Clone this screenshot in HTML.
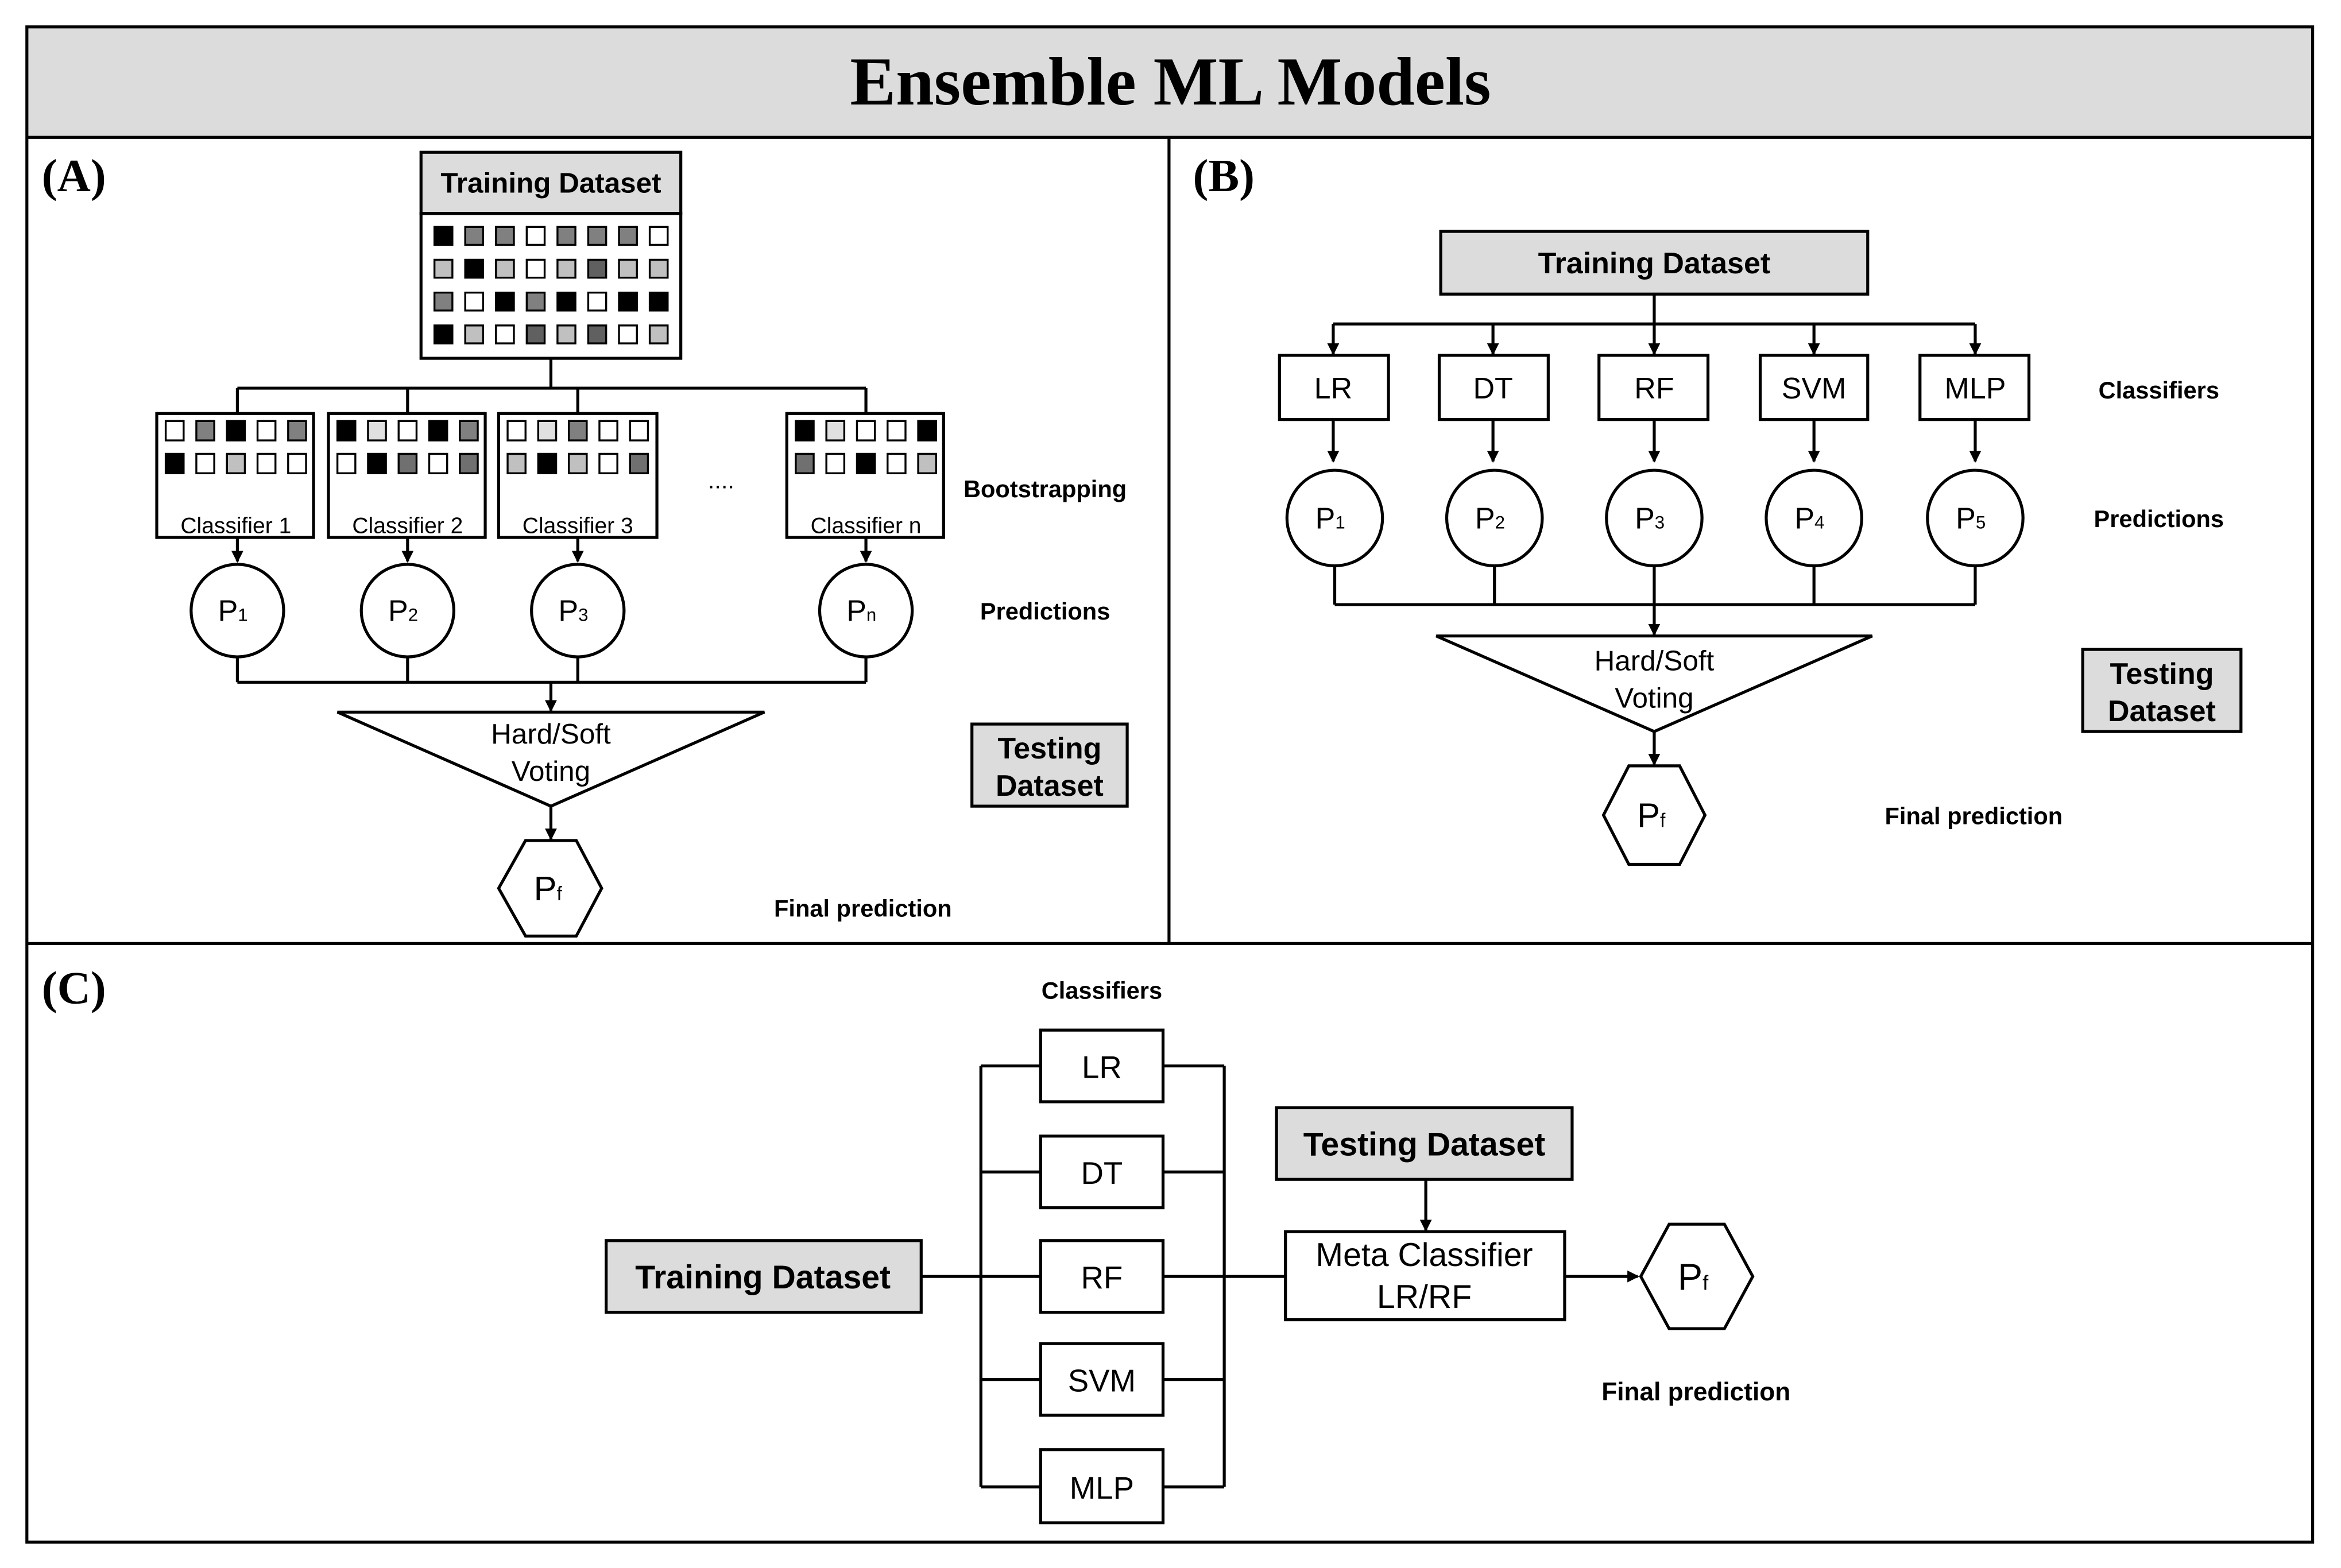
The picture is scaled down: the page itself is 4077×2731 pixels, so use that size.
<!DOCTYPE html>
<html><head><meta charset="utf-8"><style>html,body{margin:0;padding:0;background:#fff}svg{display:block}</style></head>
<body>
<svg width="4077" height="2731" viewBox="0 0 1568 1050.3" preserveAspectRatio="none" xmlns="http://www.w3.org/2000/svg" font-family="Liberation Sans, Arial, sans-serif">
<defs><marker id="ar" markerWidth="8" markerHeight="8" refX="7" refY="4" orient="auto" markerUnits="userSpaceOnUse"><path d="M0,0 L8,4 L0,8 z" fill="#000"/></marker></defs>
<rect x="0" y="0" width="1568" height="1051" fill="#fff"/>
<rect x="18" y="18" width="1531" height="74" fill="#dcdcdc"/>
<rect x="18" y="18" width="1531" height="1015" fill="none" stroke="#000" stroke-width="2"/>
<line x1="18" y1="92" x2="1549" y2="92" stroke="#000" stroke-width="2"/>
<line x1="18" y1="632" x2="1549" y2="632" stroke="#000" stroke-width="2"/>
<line x1="783" y1="92" x2="783" y2="632" stroke="#000" stroke-width="2"/>
<text x="784" y="70" text-anchor="middle" font-family="Liberation Serif, serif" font-weight="bold" font-size="46">Ensemble ML Models</text>
<g font-family="Liberation Serif, serif" font-weight="bold" font-size="31"><text x="28" y="128">(A)</text><text x="799" y="128">(B)</text><text x="28" y="672">(C)</text></g>

<g stroke="#000" stroke-width="2" fill="none">
<rect x="282" y="102" width="174" height="41" fill="#dcdcdc"/>
<rect x="282" y="143" width="174" height="97" fill="#fff"/>
<path d="M369 240V260M159 260H580M159 260V277M273 260V277M387 260V277M580 260V277"/>
<rect x="105" y="277" width="105" height="83"/>
<rect x="220" y="277" width="105" height="83"/>
<rect x="334" y="277" width="106" height="83"/>
<rect x="527" y="277" width="105" height="83"/>
<path d="M159 360V376" marker-end="url(#ar)"/><path d="M273 360V376" marker-end="url(#ar)"/><path d="M387 360V376" marker-end="url(#ar)"/><path d="M580 360V376" marker-end="url(#ar)"/>
<circle cx="159" cy="409" r="31"/><circle cx="273" cy="409" r="31"/><circle cx="387" cy="409" r="31"/><circle cx="580" cy="409" r="31"/>
<path d="M159 440V457M273 440V457M387 440V457M580 440V457M159 457H580"/>
<path d="M369 457V476" marker-end="url(#ar)"/>
<path d="M226 477H512L369 540Z"/>
<path d="M369 540V562" marker-end="url(#ar)"/>
<path d="M352 563H386L403 595L386 627H352L334 595Z"/>
<rect x="651" y="485" width="104" height="55" fill="#dcdcdc"/>
<rect x="965" y="155" width="286" height="42" fill="#dcdcdc"/>
<path d="M1108 197V217M893 217H1323"/>
<path d="M893 217V237" marker-end="url(#ar)"/><path d="M1000 217V237" marker-end="url(#ar)"/><path d="M1108 217V237" marker-end="url(#ar)"/><path d="M1215 217V237" marker-end="url(#ar)"/><path d="M1323 217V237" marker-end="url(#ar)"/>
<rect x="857" y="238" width="73" height="43"/><rect x="964" y="238" width="73" height="43"/><rect x="1071" y="238" width="73" height="43"/><rect x="1179" y="238" width="72" height="43"/><rect x="1286" y="238" width="73" height="43"/>
<path d="M893 281V309" marker-end="url(#ar)"/><path d="M1000 281V309" marker-end="url(#ar)"/><path d="M1108 281V309" marker-end="url(#ar)"/><path d="M1215 281V309" marker-end="url(#ar)"/><path d="M1323 281V309" marker-end="url(#ar)"/>
<circle cx="894" cy="347" r="32"/><circle cx="1001" cy="347" r="32"/><circle cx="1108" cy="347" r="32"/><circle cx="1215" cy="347" r="32"/><circle cx="1323" cy="347" r="32"/>
<path d="M894 379V405M1001 379V405M1215 379V405M1323 379V405M894 405H1323"/>
<path d="M1108 379V425" marker-end="url(#ar)"/>
<path d="M962 426H1254L1108 490Z"/>
<path d="M1108 490V512" marker-end="url(#ar)"/>
<path d="M1091 513H1125L1142 546L1125 579H1091L1074 546Z"/>
<rect x="1395" y="435" width="106" height="55" fill="#dcdcdc"/>
<rect x="697" y="690" width="82" height="48"/><rect x="697" y="761" width="82" height="48"/><rect x="697" y="831" width="82" height="48"/><rect x="697" y="900" width="82" height="48"/><rect x="697" y="971" width="82" height="49"/>
<path d="M657 714V996M820 714V996M657 714H697M657 785H697M657 855H697M657 924H697M657 996H697M779 714H820M779 785H820M779 855H820M779 924H820M779 996H820"/>
<rect x="406" y="831" width="211" height="48" fill="#dcdcdc"/>
<path d="M617 855H657M820 855H861"/>
<rect x="861" y="825" width="187" height="59" fill="#fff"/>
<rect x="855" y="742" width="198" height="48" fill="#dcdcdc"/>
<path d="M955 790V824" marker-end="url(#ar)"/>
<path d="M1048 855H1097" marker-end="url(#ar)"/>
<path d="M1118 820H1155L1174 855L1155 890H1118L1099 855Z"/>
</g>

<g stroke="#000" stroke-width="1.3">
<g transform="translate(291,152)">
<rect x="0" y="0" width="12" height="12" fill="#000"/><rect x="20.6" y="0" width="12" height="12" fill="#808080"/><rect x="41.2" y="0" width="12" height="12" fill="#808080"/><rect x="61.8" y="0" width="12" height="12" fill="#fff"/><rect x="82.4" y="0" width="12" height="12" fill="#808080"/><rect x="103" y="0" width="12" height="12" fill="#808080"/><rect x="123.6" y="0" width="12" height="12" fill="#808080"/><rect x="144.2" y="0" width="12" height="12" fill="#fff"/>
<rect x="0" y="22" width="12" height="12" fill="#c0c0c0"/><rect x="20.6" y="22" width="12" height="12" fill="#000"/><rect x="41.2" y="22" width="12" height="12" fill="#c0c0c0"/><rect x="61.8" y="22" width="12" height="12" fill="#fff"/><rect x="82.4" y="22" width="12" height="12" fill="#c0c0c0"/><rect x="103" y="22" width="12" height="12" fill="#606060"/><rect x="123.6" y="22" width="12" height="12" fill="#c0c0c0"/><rect x="144.2" y="22" width="12" height="12" fill="#c0c0c0"/>
<rect x="0" y="44" width="12" height="12" fill="#808080"/><rect x="20.6" y="44" width="12" height="12" fill="#fff"/><rect x="41.2" y="44" width="12" height="12" fill="#000"/><rect x="61.8" y="44" width="12" height="12" fill="#808080"/><rect x="82.4" y="44" width="12" height="12" fill="#000"/><rect x="103" y="44" width="12" height="12" fill="#fff"/><rect x="123.6" y="44" width="12" height="12" fill="#000"/><rect x="144.2" y="44" width="12" height="12" fill="#000"/>
<rect x="0" y="66" width="12" height="12" fill="#000"/><rect x="20.6" y="66" width="12" height="12" fill="#c0c0c0"/><rect x="41.2" y="66" width="12" height="12" fill="#fff"/><rect x="61.8" y="66" width="12" height="12" fill="#606060"/><rect x="82.4" y="66" width="12" height="12" fill="#c0c0c0"/><rect x="103" y="66" width="12" height="12" fill="#606060"/><rect x="123.6" y="66" width="12" height="12" fill="#fff"/><rect x="144.2" y="66" width="12" height="12" fill="#c0c0c0"/>
</g>
<g transform="translate(111,282)">
<rect x="0" y="0" width="12" height="13" fill="#fff"/><rect x="20.5" y="0" width="12" height="13" fill="#808080"/><rect x="41" y="0" width="12" height="13" fill="#000"/><rect x="61.5" y="0" width="12" height="13" fill="#fff"/><rect x="82" y="0" width="12" height="13" fill="#808080"/>
<rect x="0" y="22" width="12" height="13" fill="#000"/><rect x="20.5" y="22" width="12" height="13" fill="#fff"/><rect x="41" y="22" width="12" height="13" fill="#c0c0c0"/><rect x="61.5" y="22" width="12" height="13" fill="#fff"/><rect x="82" y="22" width="12" height="13" fill="#fff"/>
</g>
<g transform="translate(226,282)">
<rect x="0" y="0" width="12" height="13" fill="#000"/><rect x="20.5" y="0" width="12" height="13" fill="#e0e0e0"/><rect x="41" y="0" width="12" height="13" fill="#fff"/><rect x="61.5" y="0" width="12" height="13" fill="#000"/><rect x="82" y="0" width="12" height="13" fill="#808080"/>
<rect x="0" y="22" width="12" height="13" fill="#fff"/><rect x="20.5" y="22" width="12" height="13" fill="#000"/><rect x="41" y="22" width="12" height="13" fill="#707070"/><rect x="61.5" y="22" width="12" height="13" fill="#fff"/><rect x="82" y="22" width="12" height="13" fill="#707070"/>
</g>
<g transform="translate(340,282)">
<rect x="0" y="0" width="12" height="13" fill="#fff"/><rect x="20.5" y="0" width="12" height="13" fill="#e0e0e0"/><rect x="41" y="0" width="12" height="13" fill="#808080"/><rect x="61.5" y="0" width="12" height="13" fill="#fff"/><rect x="82" y="0" width="12" height="13" fill="#fff"/>
<rect x="0" y="22" width="12" height="13" fill="#c0c0c0"/><rect x="20.5" y="22" width="12" height="13" fill="#000"/><rect x="41" y="22" width="12" height="13" fill="#c0c0c0"/><rect x="61.5" y="22" width="12" height="13" fill="#fff"/><rect x="82" y="22" width="12" height="13" fill="#707070"/>
</g>
<g transform="translate(533,282)">
<rect x="0" y="0" width="12" height="13" fill="#000"/><rect x="20.5" y="0" width="12" height="13" fill="#e0e0e0"/><rect x="41" y="0" width="12" height="13" fill="#fff"/><rect x="61.5" y="0" width="12" height="13" fill="#fff"/><rect x="82" y="0" width="12" height="13" fill="#000"/>
<rect x="0" y="22" width="12" height="13" fill="#707070"/><rect x="20.5" y="22" width="12" height="13" fill="#fff"/><rect x="41" y="22" width="12" height="13" fill="#000"/><rect x="61.5" y="22" width="12" height="13" fill="#fff"/><rect x="82" y="22" width="12" height="13" fill="#c0c0c0"/>
</g>
</g>

<g text-anchor="middle" fill="#000">
<text x="369" y="129" font-size="19" font-weight="bold">Training Dataset</text>
<g font-size="15"><text x="158" y="357">Classifier 1</text><text x="273" y="357">Classifier 2</text><text x="387" y="357">Classifier 3</text><text x="580" y="357">Classifier n</text></g>
<text x="483" y="327" font-size="16">....</text>
<g font-size="20"><text x="156" y="416">P<tspan font-size="12">1</tspan></text><text x="270" y="416">P<tspan font-size="12">2</tspan></text><text x="384" y="416">P<tspan font-size="12">3</tspan></text><text x="577" y="416">P<tspan font-size="12">n</tspan></text></g>
<g font-size="19"><text x="369" y="498">Hard/Soft</text><text x="369" y="523">Voting</text></g>
<text x="367" y="603" font-size="23">P<tspan font-size="13">f</tspan></text>
<g font-weight="bold" font-size="16"><text x="700" y="333">Bootstrapping</text><text x="700" y="415">Predictions</text><text x="578" y="614">Final prediction</text></g>
<g font-weight="bold" font-size="20"><text x="703" y="508">Testing</text><text x="703" y="533">Dataset</text></g>

<text x="1108" y="183" font-size="20" font-weight="bold">Training Dataset</text>
<g font-size="20"><text x="893" y="267">LR</text><text x="1000" y="267">DT</text><text x="1108" y="267">RF</text><text x="1215" y="267">SVM</text><text x="1323" y="267">MLP</text></g>
<g font-size="20"><text x="891" y="354">P<tspan font-size="12">1</tspan></text><text x="998" y="354">P<tspan font-size="12">2</tspan></text><text x="1105" y="354">P<tspan font-size="12">3</tspan></text><text x="1212" y="354">P<tspan font-size="12">4</tspan></text><text x="1320" y="354">P<tspan font-size="12">5</tspan></text></g>
<g font-size="19"><text x="1108" y="449">Hard/Soft</text><text x="1108" y="474">Voting</text></g>
<text x="1106" y="554" font-size="23">P<tspan font-size="13">f</tspan></text>
<g font-weight="bold" font-size="16"><text x="1446" y="267">Classifiers</text><text x="1446" y="353">Predictions</text><text x="1322" y="552">Final prediction</text></g>
<g font-weight="bold" font-size="20"><text x="1448" y="458">Testing</text><text x="1448" y="483">Dataset</text></g>

<text x="738" y="669" font-weight="bold" font-size="16">Classifiers</text>
<g font-size="21"><text x="738" y="722">LR</text><text x="738" y="793">DT</text><text x="738" y="863">RF</text><text x="738" y="932">SVM</text><text x="738" y="1004">MLP</text></g>
<text x="511" y="863" font-size="22" font-weight="bold">Training Dataset</text>
<text x="954" y="774" font-size="22" font-weight="bold">Testing Dataset</text>
<g font-size="22"><text x="954" y="848">Meta Classifier</text><text x="954" y="876">LR/RF</text></g>
<text x="1134" y="864" font-size="25">P<tspan font-size="14">f</tspan></text>
<text x="1136" y="938" font-weight="bold" font-size="17">Final prediction</text>
</g>
</svg>
</body></html>
